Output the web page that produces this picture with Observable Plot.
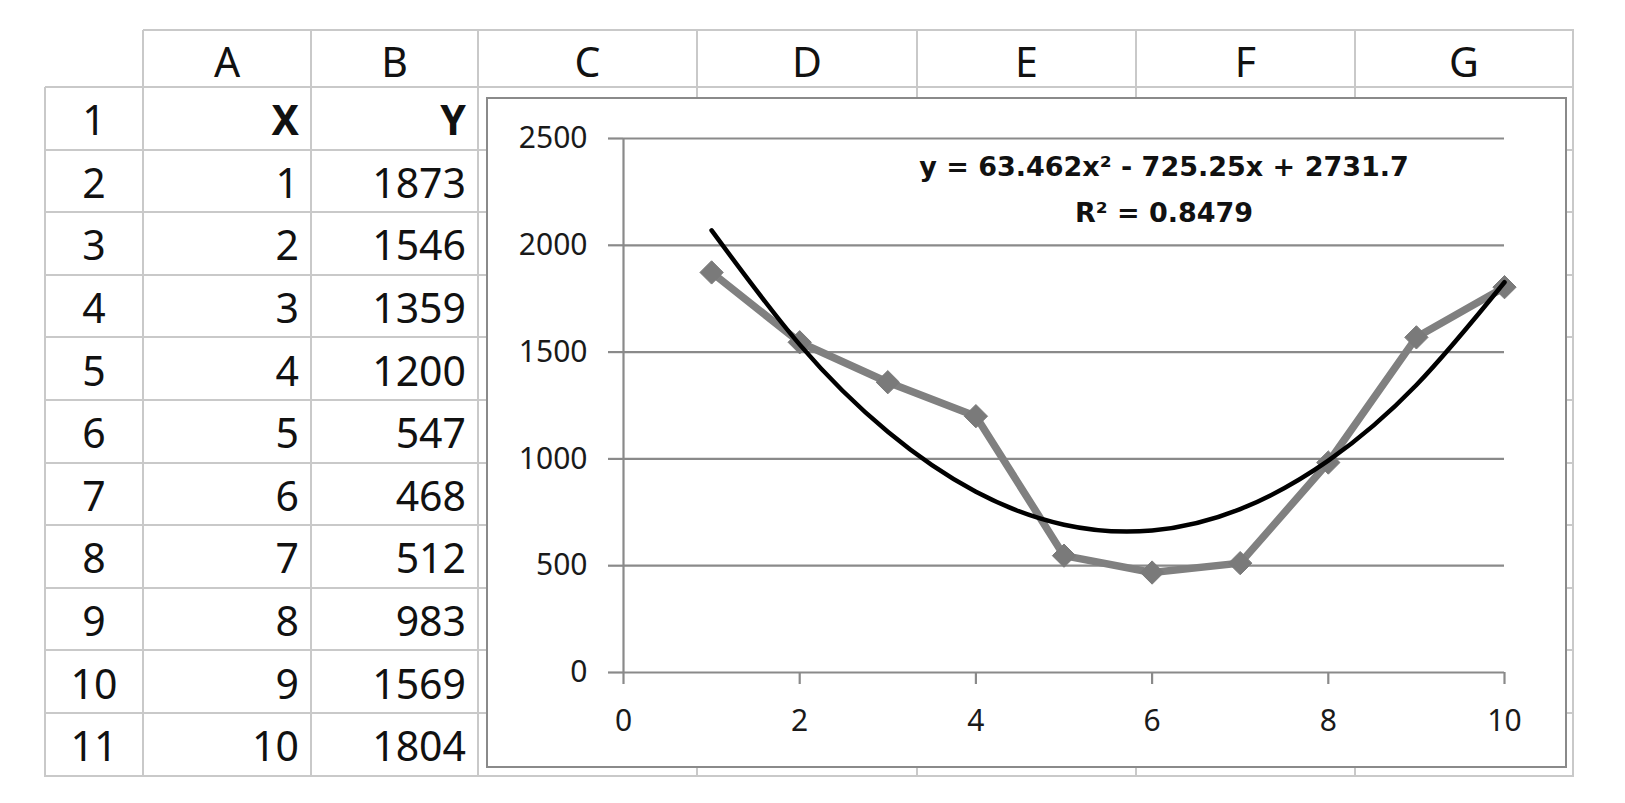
<!DOCTYPE html>
<html>
<head>
<meta charset="utf-8">
<script src="https://cdn.jsdelivr.net/npm/d3@7"></script>
<script src="https://cdn.jsdelivr.net/npm/@observablehq/plot@0.6"></script>
<style>
  html, body { margin: 0; padding: 0; background: #ffffff; }
  body { width: 1625px; height: 803px; position: relative; overflow: hidden; }
  .gl { position: absolute; background: #c9c9c9; }
  .cell { position: absolute; display: flex; align-items: center; font-family: "Noto Sans", sans-serif; font-size: 41px; color: #111; box-sizing: border-box; }
  .num { justify-content: flex-end; padding-right: 12px; }
  .ctr { justify-content: center; }
  .bold { font-weight: bold; }
  #chartBox { position: absolute; left: 486px; top: 97px; width: 1081px; height: 671px; box-sizing: border-box; border: 2px solid #8a8a8a; background: #fff; z-index: 2; }
  #plot { position: absolute; left: 487px; top: 98px; z-index: 3; }
</style>
</head>
<body>
<div id="chartBox"></div>
<div id="plot"></div>
<script>
// ---- data ----
const X = [1, 2, 3, 4, 5, 6, 7, 8, 9, 10];
const Y = [1873, 1546, 1359, 1200, 547, 468, 512, 983, 1569, 1804];
// polynomial trendline values at each x
const trendY = [2070, 1535, 1127, 846, 692, 665, 765, 992, 1346, 1827];
const columnLetters = ["A", "B", "C", "D", "E", "F", "G"];
const headerRow = ["X", "Y"];
const xTicks = [0, 2, 4, 6, 8, 10];
const yTicks = [0, 500, 1000, 1500, 2000, 2500];
const equationText = "y = 63.462x² - 725.25x + 2731.7";
const rSquaredText = "R² = 0.8479";

// ---- spreadsheet grid layout ----
const rowNumLeft = 45;
const colEdges = [143, 311, 478, 697, 917, 1136, 1355, 1573];
const headerTop = 30, headerBottom = 87, rowHeight = 62.6, nRows = 11;
const tableBottom = headerBottom + nRows * rowHeight;

function line(x, y, w, h) {
  const d = document.createElement("div");
  d.className = "gl";
  d.style.left = x + "px"; d.style.top = y + "px";
  d.style.width = w + "px"; d.style.height = h + "px";
  document.body.appendChild(d);
}
function cell(x, y, w, h, text, cls) {
  const d = document.createElement("div");
  d.className = "cell " + cls;
  d.style.left = x + "px"; d.style.top = y + "px";
  d.style.width = w + "px"; d.style.height = h + "px";
  d.textContent = text;
  document.body.appendChild(d);
  return d;
}
const right = colEdges[colEdges.length - 1];
line(colEdges[0], headerTop - 1, right - colEdges[0] + 1, 2);
for (let k = 0; k <= nRows; k++) {
  const y = headerBottom + k * rowHeight;
  line(rowNumLeft, y - 1, right - rowNumLeft + 1, 2);
}
line(rowNumLeft - 1, headerBottom, 2, tableBottom - headerBottom + 1);
colEdges.forEach(x => line(x - 1, headerTop, 2, tableBottom - headerTop + 1));

columnLetters.forEach((c, i) => {
  const d = cell(colEdges[i], headerTop, colEdges[i + 1] - colEdges[i], headerBottom - headerTop, c, "ctr");
  d.style.paddingTop = "4px";
});
for (let r = 0; r < nRows; r++) {
  const top = headerBottom + r * rowHeight;
  const d = cell(rowNumLeft, top, colEdges[0] - rowNumLeft, rowHeight, String(r + 1), "ctr");
  d.style.paddingTop = "2px";
}
headerRow.forEach((h, i) => {
  const d = cell(colEdges[i], headerBottom, colEdges[i + 1] - colEdges[i], rowHeight, h, "num bold");
  d.style.paddingTop = "2px";
});
X.forEach((xv, r) => {
  const top = headerBottom + (r + 1) * rowHeight;
  const a = cell(colEdges[0], top, colEdges[1] - colEdges[0], rowHeight, String(xv), "num");
  const b = cell(colEdges[1], top, colEdges[2] - colEdges[1], rowHeight, String(Y[r]), "num");
  a.style.paddingTop = b.style.paddingTop = "2px";
});

// ---- chart ----
const points = X.map((x, i) => ({x, y: Y[i]}));
const trend = X.map((x, i) => ({x, y: trendY[i]}));
const gridColor = "#8a8a8a";

const chart = Plot.plot({
  width: 1079,
  height: 669,
  marginLeft: 136,
  marginRight: 62,
  marginTop: 40,
  marginBottom: 95,
  style: {fontFamily: "Noto Sans, sans-serif", fontSize: "30px", background: "transparent", color: "#1a1a1a", overflow: "visible"},
  x: {domain: [0, 10], label: null},
  y: {domain: [0, 2500], label: null},
  marks: [
    Plot.gridY(yTicks, {stroke: gridColor, strokeOpacity: 1, strokeWidth: 2.2}),
    Plot.axisY(yTicks, {tickSize: 15, tickPadding: 21, stroke: gridColor, strokeWidth: 2.2, label: null, tickFormat: d => String(d)}),
    Plot.axisX(xTicks, {tickSize: 12, tickPadding: 25, stroke: gridColor, strokeWidth: 2.2, label: null, tickFormat: d => String(d)}),
    Plot.ruleX([0], {stroke: gridColor, strokeWidth: 2.2}),
    Plot.line(points, {x: "x", y: "y", stroke: "#808080", strokeWidth: 7.5, strokeLinejoin: "round"}),
    Plot.dot(points, {x: "x", y: "y", symbol: "diamond2", r: 10.5, fill: "#7a7a7a", stroke: "#7a7a7a", strokeWidth: 1}),
    Plot.line(trend, {x: "x", y: "y", curve: "natural", stroke: "#000", strokeWidth: 4.5}),
    Plot.text([equationText], {frameAnchor: "top", dx: 100, dy: 37, lineAnchor: "bottom", fontFamily: "DejaVu Sans, sans-serif", fontWeight: "bold", fontSize: 27, fill: "#111"}),
    Plot.text([rSquaredText], {frameAnchor: "top", dx: 100, dy: 83, lineAnchor: "bottom", fontFamily: "DejaVu Sans, sans-serif", fontWeight: "bold", fontSize: 27, fill: "#111"})
  ]
});
document.getElementById("plot").appendChild(chart);
</script>
</body>
</html>
